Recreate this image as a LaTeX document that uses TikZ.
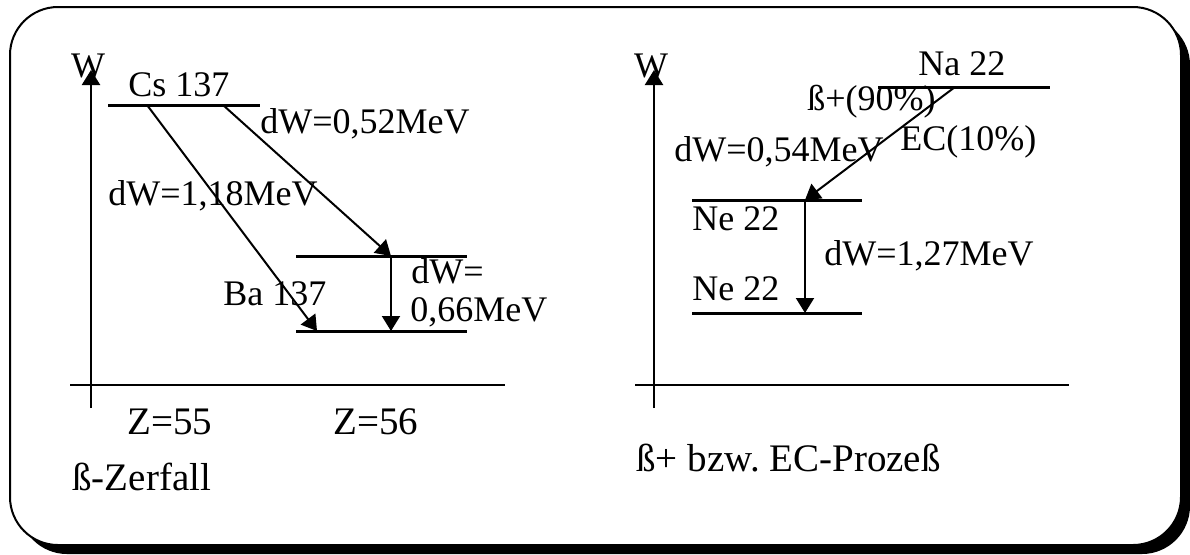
\documentclass[tikz,border=0pt]{standalone}
\usepackage{fontspec}
\setmainfont{Liberation Serif}
\usepackage{tikz}
\usetikzlibrary{arrows.meta}
\frenchspacing
\tikzset{
    axis/.style={
        draw,
        line width=1.2pt,
        -{Triangle[length=7.5pt, width=9pt]}
    },
    level/.style={
        draw,
        line width=1.5pt
    },
    trans/.style={
        draw,
        line width=1pt,
        -{Triangle[length=7.5pt, width=9pt]}
    },
    lbl/.style={
        inner sep=0pt,
        anchor=base west,
        font=\fontsize{18}{20}\selectfont
    },
    caption/.style={
        lbl,
        font=\fontsize{19.5}{22}\selectfont
    }
}

\begin{document}
\begin{tikzpicture}[x=0.5pt, y=-0.5pt]
    \useasboundingbox (0,0) rectangle (1190,554);
    % Frame with shadow
    \fill[black, rounded corners=24pt] (19,17) rectangle (1190,554);
    \draw[line width=1pt, fill=white, rounded corners=24pt] (10,7) rectangle (1181,545);

    % Left: beta decay
    \coordinate (oL) at (91,385);
    \coordinate (wL) at (91,70);
    \draw[line width=1.2pt] (70,385) -- (505,385);
    \draw[line width=1.2pt] (91,408) -- (oL);
    \draw[axis] (oL) -- (wL);
    \node[lbl, anchor=base] (wLabelL) at (88,77) {W};

    % Levels
    \draw[level] (108,105) -- (260,105);
    \draw[level] (296,256) -- (467,256);
    \draw[level] (296,331) -- (467,331);
    \coordinate (cs1) at (147,105);
    \coordinate (cs2) at (223,105);
    \coordinate (ba1) at (391,256);
    \coordinate (ba0a) at (317,331);
    \coordinate (ba0b) at (391,331);

    % Transitions
    \draw[trans] (cs2) -- (ba1);
    \draw[trans] (cs1) -- (ba0a);
    \draw[trans] (ba1) -- (ba0b);

    % Labels
    \node[lbl] (cs) at (128,96) {Cs 137};
    \node[lbl] (dw52) at (260,133) {dW=0,52MeV};
    \node[lbl] (dw118) at (108,205) {dW=1,18MeV};
    \node[lbl] (ba) at (223,305) {Ba 137};
    \node[lbl] (dw66a) at (411,283) {dW=};
    \node[lbl] (dw66b) at (410,321) {0,66MeV};
    \node[caption] (z55) at (127,434) {Z=55};
    \node[caption] (z56) at (333,434) {Z=56};
    \node[caption] (capL) at (72,490) {ß-Zerfall};

    % Right: beta+ / EC
    \coordinate (oR) at (654,385);
    \coordinate (wR) at (654,70);
    \draw[line width=1.2pt] (635,385) -- (1069,385);
    \draw[line width=1.2pt] (654,408) -- (oR);
    \draw[axis] (oR) -- (wR);
    \node[lbl, anchor=base] (wLabelR) at (651,77) {W};

    % Levels
    \draw[level] (878,87) -- (1050,87);
    \draw[level] (692,200) -- (862,200);
    \draw[level] (692,313) -- (862,313);
    \coordinate (na) at (955,87);
    \coordinate (ne1) at (805,200);
    \coordinate (ne0) at (805,313);

    % Transitions
    \draw[trans] (na) -- (ne1);
    \draw[trans] (ne1) -- (ne0);

    % Labels
    \node[lbl] (naLabel) at (918,75) {Na 22};
    \node[lbl] (bp) at (807,110) {ß+(90\%)};
    \node[lbl] (ec) at (900,150) {EC(10\%)};
    \node[lbl] (dw54) at (674,161) {dW=0,54MeV};
    \node[lbl] (ne1Label) at (692,230) {Ne 22};
    \node[lbl] (dw127) at (824,265) {dW=1,27MeV};
    \node[lbl] (ne0Label) at (692,300) {Ne 22};
    \node[caption] (capR) at (636,471) {ß+ bzw. EC-Prozeß};
\end{tikzpicture}
\end{document}
